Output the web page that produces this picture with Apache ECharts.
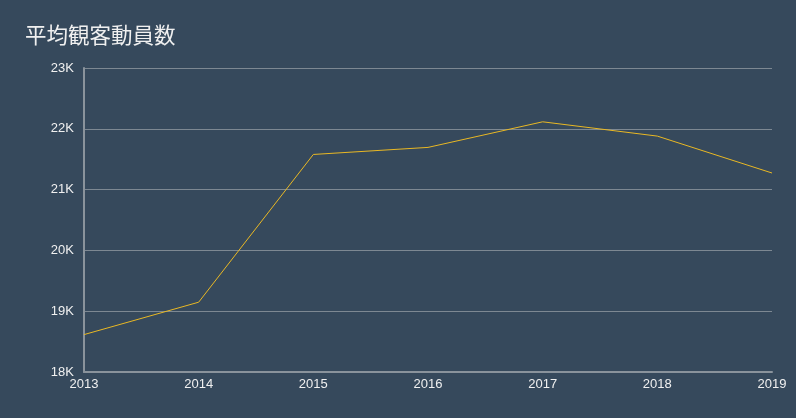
<!DOCTYPE html>
<html><head><meta charset="utf-8">
<script src="https://cdn.jsdelivr.net/npm/echarts@6/dist/echarts.min.js"></script>
<style>html,body{margin:0;padding:0;background:#36495c;}#c{width:796px;height:418px;}</style>
</head><body><div id="c"></div>
<script>
const categories = ['2013','2014','2015','2016','2017','2018','2019'];
const attendance = [18615, 19148, 21578, 21694, 22115, 21880, 21273];
const yTicks = [18000, 19000, 20000, 21000, 22000, 23000];

const chart = echarts.init(document.getElementById('c'));
chart.setOption({
  backgroundColor: '#36495c',
  animation: false,
  title: {
    text: '平均観客動員数',
    left: 20, top: 19,
    textStyle: {color: '#f0f0f0', fontSize: 21.5, fontWeight: 'normal', fontFamily: 'Noto Sans CJK JP'}
  },
  grid: {left: 84, right: 24, top: 68, bottom: 46},
  xAxis: {
    type: 'category', data: categories, boundaryGap: false,
    axisLine: {lineStyle: {color: '#8a939c', width: 2}},
    axisTick: {show: false},
    axisLabel: {color: '#f0f0f0', fontSize: 13, margin: 6, fontFamily: 'Liberation Sans'}
  },
  yAxis: {
    type: 'value', min: yTicks[0], max: yTicks[yTicks.length-1], interval: 1000,
    axisLine: {show: true, lineStyle: {color: '#8a939c', width: 2}},
    axisTick: {show: false},
    splitLine: {lineStyle: {color: '#7d8892', width: 1}},
    axisLabel: {color: '#f0f0f0', fontSize: 13, margin: 10, fontFamily: 'Liberation Sans',
      formatter: v => (v/1000) + 'K'}
  },
  series: [{
    type: 'line', data: attendance, symbol: 'none',
    lineStyle: {color: '#e9b824', width: 1}
  }]
});
</script></body></html>
